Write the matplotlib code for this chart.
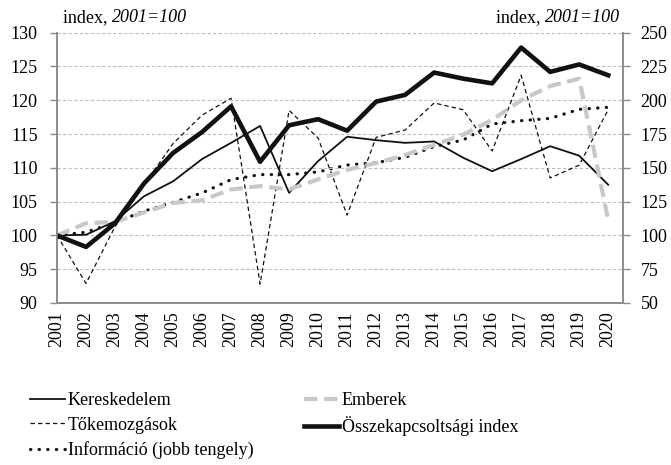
import numpy as np
import matplotlib
matplotlib.use('Agg')
from matplotlib import pyplot as plt

years = list(range(2001, 2021))

kereskedelem = [100, 100.1, 102.1, 105.8, 108.0, 111.3, 113.7, 116.2, 106.3, 111.0,
                114.6, 114.1, 113.7, 113.9, 111.5, 109.5, 111.3, 113.2, 111.8, 107.5]
tokemozgasok = [100, 92.9, 101.3, 107.5, 113.6, 117.8, 120.3, 92.8, 118.5, 114.4,
                103.0, 114.5, 115.6, 119.6, 118.6, 112.5, 123.7, 108.5, 110.4, 118.6]
emberek = [100, 101.8, 102.0, 103.4, 104.8, 105.2, 106.8, 107.3, 106.8, 108.3,
           109.7, 110.7, 111.9, 113.4, 114.9, 117.1, 120.0, 122.1, 123.2, 102.3]
osszekapcsoltsag = [100, 98.3, 101.8, 107.7, 112.2, 115.3, 119.1, 110.9, 116.3, 117.2,
                    115.5, 119.8, 120.8, 124.1, 123.2, 122.5, 127.8, 124.2, 125.3, 123.7]
# right axis
informacio = [100, 102.4, 109.6, 118.0, 124.5, 131.4, 141.3, 145.0, 145.0, 147.0,
              152.1, 153.8, 157.8, 165.7, 170.6, 182.4, 184.9, 186.6, 193.3, 194.8]

left_ticks = [90, 95, 100, 105, 110, 115, 120, 125, 130]
right_ticks = [50, 75, 100, 125, 150, 175, 200, 225, 250]

plt.rcParams['font.family'] = ['Liberation Serif', 'DejaVu Serif']
fs = 13
spine_col = '#8c8c8c'

fig = plt.figure(figsize=(6.71, 4.65), dpi=100)
ax = fig.add_axes([0.085, 0.3484, 0.843, 0.5813])
ax2 = ax.twinx()

ax.set_ylim(90, 130)
ax2.set_ylim(50, 250)
ax.set_xlim(2001, 2020.5)
ax.set_yticks(left_ticks)
ax2.set_yticks(right_ticks)
ax.set_xticks(years)
ax.set_xticklabels([str(y) for y in years], rotation=90, fontsize=fs)
ax.tick_params(axis='y', labelsize=fs, color=spine_col, length=5, width=1, pad=9)
ax.tick_params(axis='x', length=0, pad=6)
ax2.tick_params(axis='y', labelsize=fs, color=spine_col, length=5, width=1, pad=8)

for a in (ax, ax2):
    a.spines['top'].set_visible(False)
    for s in ('left', 'right', 'bottom'):
        a.spines[s].set_color(spine_col)
        a.spines[s].set_linewidth(1.2)

ax.yaxis.grid(True, color='#bdbdbd', linestyle=(0, (3, 2)), linewidth=0.8)
ax.set_axisbelow(True)

l1, = ax.plot(years, kereskedelem, color='#111111', lw=1.3, label='Kereskedelem')
l2, = ax.plot(years, tokemozgasok, color='#111111', lw=0.9, linestyle=(0, (3.5, 2.5)),
              label='Tőkemozgások')
l4, = ax.plot(years, emberek, color='#c8c8c8', lw=3, linestyle=(0, (3.2, 1.6)),
              label='Emberek')
l5, = ax.plot(years, osszekapcsoltsag, color='#111111', lw=3.3, label='Összekapcsoltsági index')
l3, = ax2.plot(years, informacio, color='#111111', lw=2.3, linestyle=(0, (0.1, 2.6)),
               dash_capstyle='round', label='Információ (jobb tengely)')
ax.set_zorder(ax2.get_zorder() + 1)
ax.patch.set_visible(False)

# headers
t1 = fig.text(63 / 671, 1 - 18 / 465, 'index, ', fontsize=fs, va='center', ha='left')
fig.canvas.draw()
ax.annotate('2001=100', xy=(1, 0), xycoords=t1, va='bottom', ha='left',
            fontsize=fs, style='italic', annotation_clip=False)
t2 = fig.text(620 / 671, 1 - 18 / 465, '2001=100', fontsize=fs, va='center', ha='right',
              style='italic')
ax.annotate('index, ', xy=(0, 0), xycoords=t2, va='bottom', ha='right',
            fontsize=fs, annotation_clip=False)

fig.legend(handles=[l1, l2, l3, l4, l5], ncol=2, frameon=False, fontsize=fs,
           loc='upper left', bbox_to_anchor=(30 / 671, 1 - 392 / 465),
           handlelength=1.95, handletextpad=0.15, columnspacing=2.8,
           labelspacing=0.42, borderaxespad=0, borderpad=0)

fig.savefig('out.png', dpi=100)
